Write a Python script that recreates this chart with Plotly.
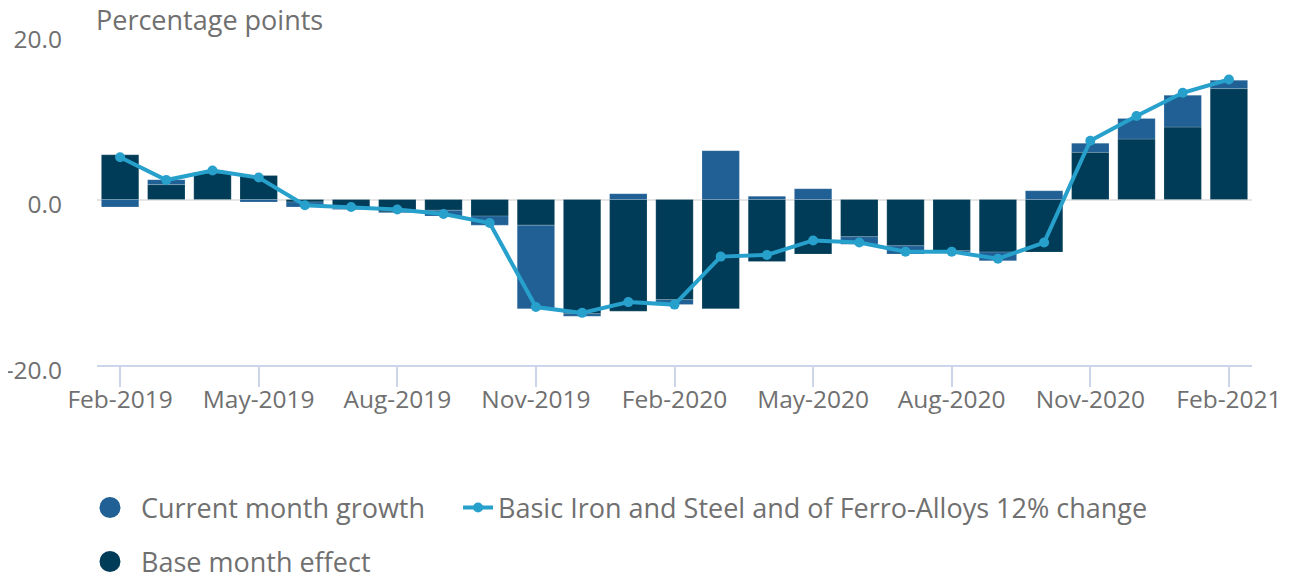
import plotly.graph_objects as go

months = ["Feb-2019", "Mar-2019", "Apr-2019", "May-2019", "Jun-2019", "Jul-2019",
          "Aug-2019", "Sep-2019", "Oct-2019", "Nov-2019", "Dec-2019", "Jan-2020",
          "Feb-2020", "Mar-2020", "Apr-2020", "May-2020", "Jun-2020", "Jul-2020",
          "Aug-2020", "Sep-2020", "Oct-2020", "Nov-2020", "Dec-2020", "Jan-2021",
          "Feb-2021"]

base_month_effect = [5.4, 1.8, 3.2, 2.9, -0.3, -1.1, -1.5, -1.3, -2.0, -3.1,
                     -13.8, -13.5, -12.1, -13.2, -7.5, -6.6, -4.5, -5.6, -6.2,
                     -6.35, -6.35, 5.7, 7.3, 8.75, 13.4]

current_month_growth = [-0.9, 0.6, 0.1, -0.3, -0.6, -0.1, -0.1, -0.7, -1.1, -10.1,
                        -0.3, 0.7, -0.6, 5.9, 0.4, 1.3, -0.9, -1.0, -0.2, -1.05,
                        1.05, 1.1, 2.5, 3.85, 1.0]

twelve_month_change = [5.1, 2.35, 3.5, 2.65, -0.7, -0.9, -1.2, -1.75, -2.85, -13.0,
                       -13.7, -12.4, -12.7, -6.9, -6.7, -4.95, -5.2, -6.3, -6.3,
                       -7.15, -5.2, 7.1, 10.1, 12.9, 14.5]

tick_labels = months[::3]
y_ticks = [-20, 0, 20]
y_tick_text = ["-20.0", "0.0", "20.0"]

C_CURRENT = "#206095"
C_BASE = "#003c57"
C_LINE = "#27a0cc"
TXT = "#707070"
FONT = "Open Sans"
BAR_EDGE = dict(color="rgba(255,255,255,0.35)", width=0.5)

fig = go.Figure()

# Bars: base month effect stacked first (closest to zero), current month growth beyond
fig.add_trace(go.Bar(x=months, y=base_month_effect, name="Base month effect",
                     marker=dict(color=C_BASE, line=BAR_EDGE), showlegend=False))
fig.add_trace(go.Bar(x=months, y=current_month_growth, name="Current month growth",
                     marker=dict(color=C_CURRENT, line=BAR_EDGE), showlegend=False))
fig.add_trace(go.Scatter(x=months, y=twelve_month_change,
                         name="Basic Iron and Steel and of Ferro-Alloys 12% change",
                         mode="lines+markers",
                         line=dict(color=C_LINE, width=4),
                         marker=dict(color=C_LINE, size=10),
                         legend="legend2"))

# Legend entries with circle symbols
fig.add_trace(go.Scatter(x=[None], y=[None], mode="markers", name="Current month growth",
                         marker=dict(color=C_CURRENT, size=16, line=dict(color=C_CURRENT, width=5)),
                         legend="legend"))
fig.add_trace(go.Scatter(x=[None], y=[None], mode="markers", name="Base month effect",
                         marker=dict(color=C_BASE, size=16, line=dict(color=C_BASE, width=5)),
                         legend="legend3"))

leg_common = dict(orientation="h", xanchor="left", yanchor="middle",
                  font=dict(family=FONT, size=27, color=TXT), bgcolor="rgba(0,0,0,0)")

fig.update_layout(
    width=1290, height=576,
    barmode="relative",
    bargap=0.19,
    plot_bgcolor="white", paper_bgcolor="white",
    font=dict(family=FONT, color=TXT, size=24),
    margin=dict(l=89, r=46, t=26, b=219, autoexpand=False),
    legend=dict(x=-0.0156, y=-0.432, itemwidth=52, **leg_common),
    legend2=dict(x=0.3126, y=-0.432, itemwidth=30, **leg_common),
    legend3=dict(x=-0.0156, y=-0.595, itemwidth=52, **leg_common),
    annotations=[dict(text="Percentage points", xref="paper", yref="paper", x=0, y=1,
                      xanchor="left", yanchor="bottom", showarrow=False,
                      xshift=-3, yshift=-6,
                      font=dict(family=FONT, size=27, color=TXT))],
)

fig.update_xaxes(type="category", categoryorder="array", categoryarray=months,
                 tickmode="array", tickvals=tick_labels, ticktext=tick_labels,
                 showgrid=False, showline=True, linecolor="#ccd6eb", linewidth=2,
                 ticks="outside", ticklen=20, tickwidth=2, tickcolor="#ccd6eb",
                 ticklabelstandoff=-8,
                 tickfont=dict(family=FONT, size=24.5, color=TXT),
                 range=[-0.5, 24.5])
fig.update_yaxes(range=[-20, 20], tickmode="array", tickvals=y_ticks, ticktext=y_tick_text,
                 showgrid=True, gridcolor="#e6e6e6", gridwidth=2,
                 zeroline=True, zerolinecolor="#e6e6e6", zerolinewidth=2,
                 showline=False, ticklabelstandoff=34, ticklabelshift=5,
                 tickfont=dict(family=FONT, size=24.5, color=TXT))

fig.write_html("out.html")
